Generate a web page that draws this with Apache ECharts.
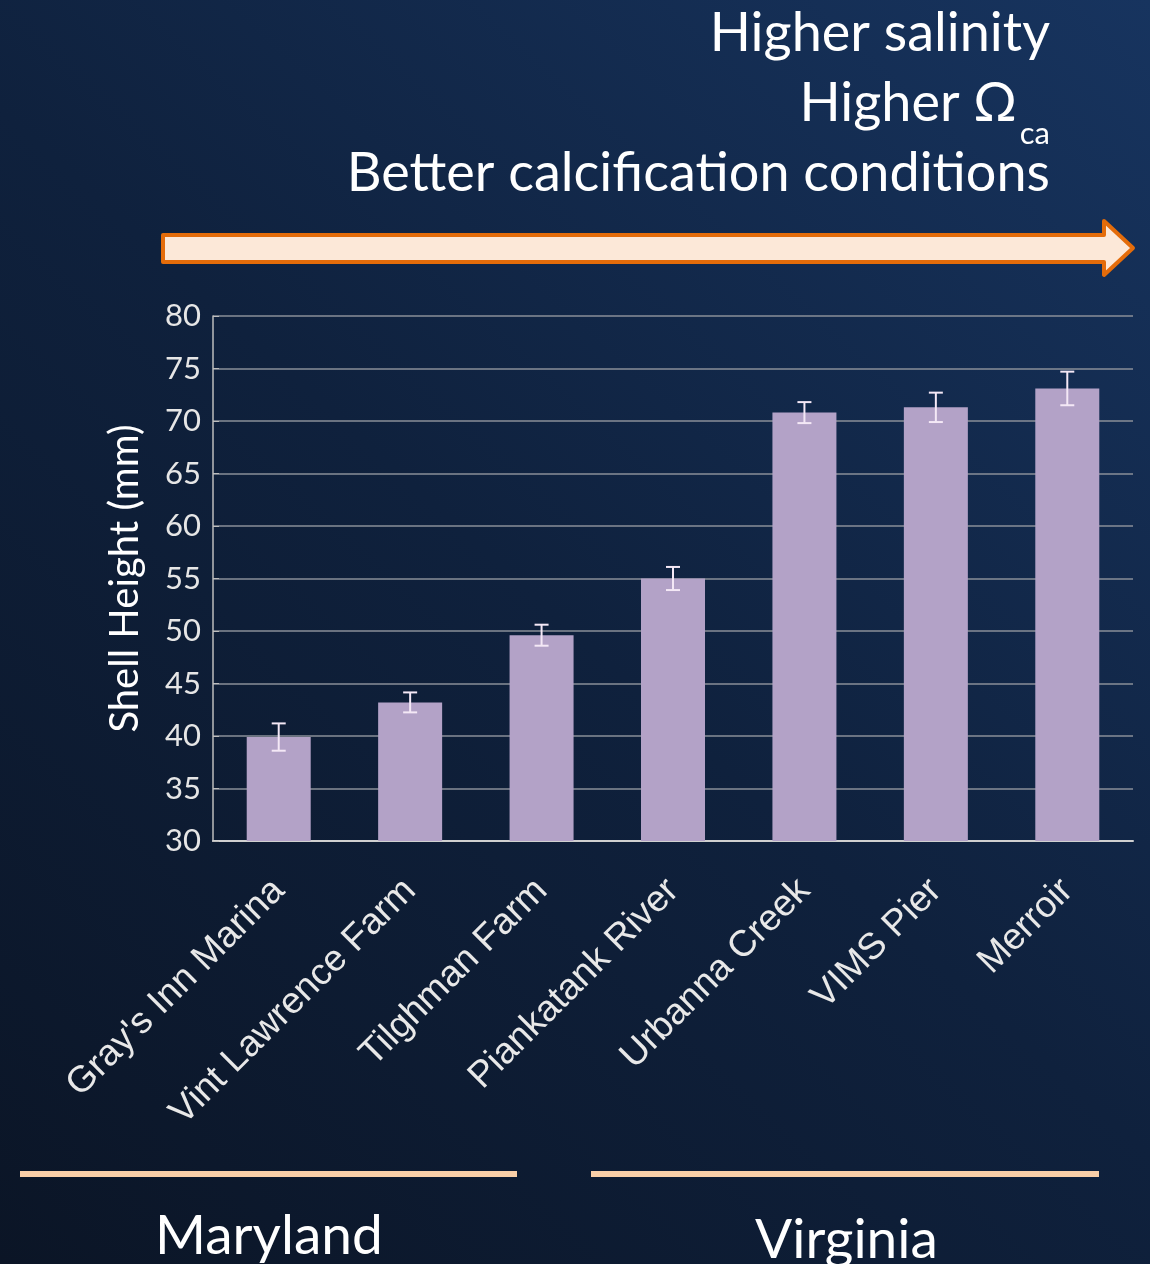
<!DOCTYPE html>
<html>
<head>
<meta charset="utf-8">
<script src="https://cdn.jsdelivr.net/npm/echarts@6/dist/echarts.min.js"></script>
<style>
html,body{margin:0;padding:0;width:1150px;height:1264px;overflow:hidden;}
#chart{width:1150px;height:1264px;}
</style>
</head>
<body>
<div id="chart"></div>
<script>
const categories = ["Gray's Inn Marina", "Vint Lawrence Farm", "Tilghman Farm", "Piankatank River", "Urbanna Creek", "VIMS Pier", "Merroir"];
const shellHeight = [39.9, 43.2, 49.6, 55.0, 70.8, 71.3, 73.1];
const errorMargin = [1.3, 0.95, 1.0, 1.1, 1.0, 1.4, 1.6];
const yMin = 30, yMax = 80, yStep = 5;
const yAxisName = 'Shell Height (mm)';
const headerLines = ['Higher salinity', 'Higher \u03A9', 'Better calcification conditions'];
const headerSub = 'ca';
const regions = ['Maryland', 'Virginia'];

const chart = echarts.init(document.getElementById('chart'));
const errData = shellHeight.map((v, i) => [i, v - errorMargin[i], v + errorMargin[i]]);
const titleFont = 'Lato, "Open Sans", sans-serif';

chart.setOption({
  backgroundColor: {
    type: 'linear', x: 0, y: 1, x2: 1, y2: 0,
    colorStops: [
      {offset: 0, color: '#0b1526'},
      {offset: 0.5, color: '#0f213d'},
      {offset: 1, color: '#17345f'}
    ]
  },
  animation: false,
  grid: {left: 213, right: 17, top: 316, bottom: 423},
  xAxis: {
    type: 'category',
    data: categories,
    axisLine: {lineStyle: {color: '#d0d0d0', width: 2}},
    axisTick: {show: false},
    axisLabel: {
      rotate: 45, interval: 0, margin: 44,
      color: '#e8e8e8', fontFamily: '"Liberation Sans", Arial, sans-serif', fontSize: 37
    }
  },
  yAxis: {
    type: 'value', min: yMin, max: yMax, interval: yStep,
    name: yAxisName, nameLocation: 'middle', nameGap: 68,
    nameTextStyle: {color: '#ffffff', fontFamily: titleFont, fontSize: 40},
    axisLine: {show: true, lineStyle: {color: '#bdbdbd', width: 1.5}},
    axisTick: {show: true, inside: true, length: 6, lineStyle: {color: '#bdbdbd'}},
    splitLine: {lineStyle: {color: '#8a8f99', width: 1.5}},
    axisLabel: {color: '#e6e6e6', fontFamily: titleFont, fontSize: 31, margin: 12}
  },
  series: [
    {
      type: 'bar',
      data: shellHeight,
      barWidth: 64,
      itemStyle: {color: '#b3a2c7'},
      z: 2
    },
    {
      type: 'custom',
      data: errData,
      z: 3,
      renderItem: function (params, api) {
        const x = api.value(0);
        const lo = api.coord([x, api.value(1)]);
        const hi = api.coord([x, api.value(2)]);
        const cap = 7;
        const st = {stroke: '#f4e8f6', lineWidth: 2};
        return {
          type: 'group',
          children: [
            {type: 'line', shape: {x1: hi[0], y1: hi[1], x2: lo[0], y2: lo[1]}, style: st},
            {type: 'line', shape: {x1: hi[0] - cap, y1: hi[1], x2: hi[0] + cap, y2: hi[1]}, style: st},
            {type: 'line', shape: {x1: lo[0] - cap, y1: lo[1], x2: lo[0] + cap, y2: lo[1]}, style: st}
          ]
        };
      }
    }
  ],
  graphic: [
    {type: 'text', right: 100, top: 7, style: {text: headerLines[0], fill: '#ffffff', font: '54px ' + titleFont, textAlign: 'right'}},
    {type: 'text', right: 133, top: 77, style: {text: headerLines[1], fill: '#ffffff', font: '54px ' + titleFont, textAlign: 'right'}},
    {type: 'text', right: 100, top: 118, style: {text: headerSub, fill: '#ffffff', font: '31px ' + titleFont, textAlign: 'right'}},
    {type: 'text', right: 100, top: 147, style: {text: headerLines[2], fill: '#ffffff', font: '54px ' + titleFont, textAlign: 'right'}},
    {
      type: 'polygon',
      shape: {points: [[163, 235], [1104, 235], [1104, 221], [1133, 248], [1104, 275], [1104, 262], [163, 262]]},
      style: {fill: '#fce8d8', stroke: '#e46c0a', lineWidth: 4, lineJoin: 'round'}
    },
    {type: 'rect', shape: {x: 20, y: 1171, width: 497, height: 6}, style: {fill: '#f9cfa8'}},
    {type: 'rect', shape: {x: 591, y: 1171, width: 508, height: 6}, style: {fill: '#f9cfa8'}},
    {type: 'text', left: 155, top: 1209, style: {text: regions[0], fill: '#ffffff', font: '55px ' + titleFont}},
    {type: 'text', left: 755, top: 1213, style: {text: regions[1], fill: '#ffffff', font: '55px ' + titleFont}}
  ]
});
</script>
</body>
</html>
